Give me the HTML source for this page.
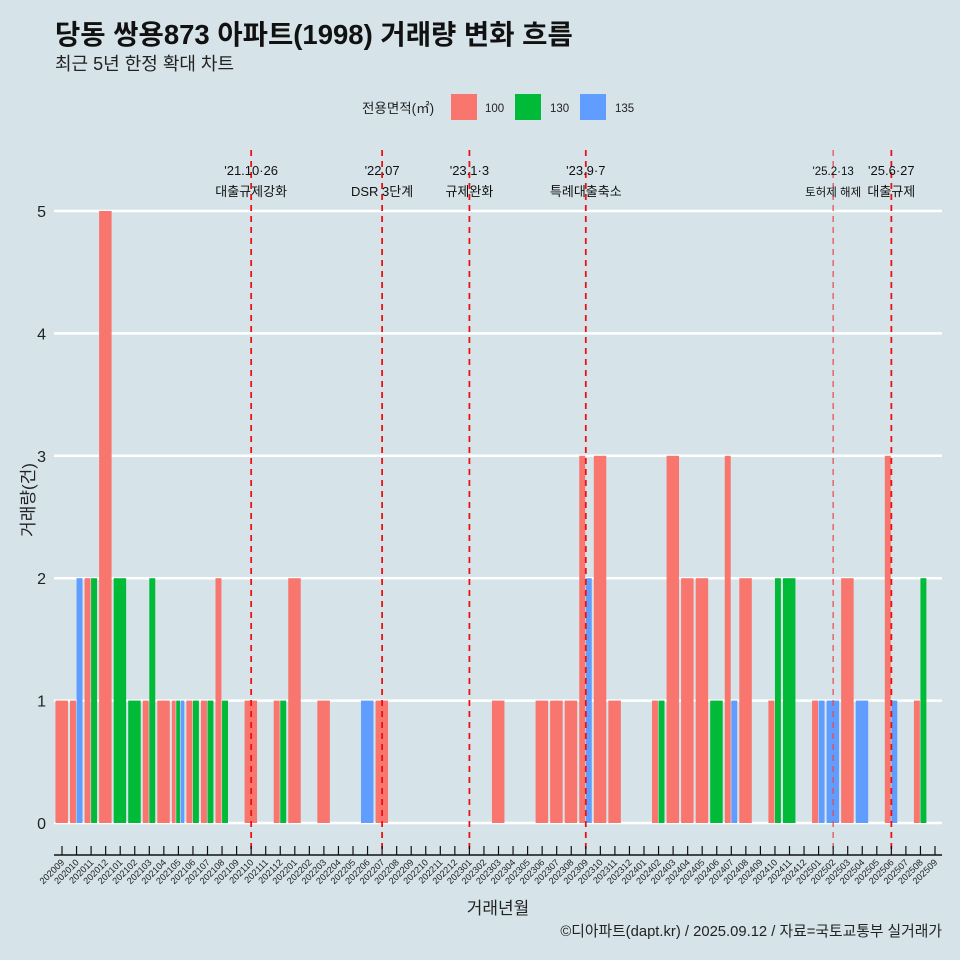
<!DOCTYPE html>
<html><head><meta charset="utf-8">
<style>
body{margin:0;background:#d6e4ea;}
svg{display:block;font-family:"Liberation Sans","Noto Sans CJK KR",sans-serif;}
</style></head>
<body>
<svg id="chart" width="960" height="960" viewBox="0 0 960 960">
<rect width="960" height="960" fill="#d6e4ea"/>
<text x="55" y="44" font-size="27.5" font-weight="bold" fill="#111">당동 쌍용873 아파트(1998) 거래량 변화 흐름</text>
<text x="55" y="70" font-size="18" fill="#222">최근 5년 한정 확대 차트</text>
<g>
<text x="362" y="113" font-size="13.5" fill="#222">전용면적(㎡)</text>
<rect x="451" y="94" width="26" height="26" fill="#F8766D"/>
<text x="485" y="112" font-size="11.5" fill="#222">100</text>
<rect x="515" y="94" width="26" height="26" fill="#00BA38"/>
<text x="550" y="112" font-size="11.5" fill="#222">130</text>
<rect x="580" y="94" width="26" height="26" fill="#619CFF"/>
<text x="615" y="112" font-size="11.5" fill="#222">135</text>
</g>
<g id="grid"></g><g id="bars"></g><g id="events"></g><g id="axes"></g>
<text x="0" y="0" transform="translate(34,500) rotate(-90)" text-anchor="middle" font-size="17" fill="#222">거래량(건)</text>
<text x="498" y="914" text-anchor="middle" font-size="17" fill="#222">거래년월</text>
<text x="942" y="936" text-anchor="end" font-size="14.8" fill="#222">©디아파트(dapt.kr) / 2025.09.12 / 자료=국토교통부 실거래가</text>
</svg>
<script>
const months = ["202009","202010","202011","202012","202101","202102","202103","202104","202105","202106","202107","202108","202109","202110","202111","202112","202201","202202","202203","202204","202205","202206","202207","202208","202209","202210","202211","202212","202301","202302","202303","202304","202305","202306","202307","202308","202309","202310","202311","202312","202401","202402","202403","202404","202405","202406","202407","202408","202409","202410","202411","202412","202501","202502","202503","202504","202505","202506","202507","202508","202509"];
const s100 = [1,1,2,5,0,0,1,1,1,1,1,2,0,1,0,1,2,0,1,0,0,0,1,0,0,0,0,0,0,0,1,0,0,1,1,1,3,3,1,0,0,1,3,2,2,0,3,2,0,1,0,0,1,0,2,0,0,3,0,1,0];
const s130 = [0,0,2,0,2,1,2,0,1,1,1,1,0,0,0,1,0,0,0,0,0,0,0,0,0,0,0,0,0,0,0,0,0,0,0,0,0,0,0,0,0,1,0,0,0,1,0,0,0,2,2,0,0,0,0,0,0,0,0,2,0];
const s135 = [0,2,0,0,0,0,0,0,1,0,0,0,0,0,0,0,0,0,0,0,0,1,0,0,0,0,0,0,0,0,0,0,0,0,0,0,2,0,0,0,0,0,0,0,0,0,1,0,0,0,0,0,1,1,0,1,0,1,0,0,0];
const yTicks = [0,1,2,3,4,5];
const eventMonths = ["202110","202207","202301","202309","202502","202506"];
const eventDates = ["'21.10·26","'22.07","'23.1·3","'23.9·7","'25.2·13","'25.6·27"];
const eventLabels = ["대출규제강화","DSR 3단계","규제완화","특례대출축소","토허제 해제","대출규제"];

const NS="http://www.w3.org/2000/svg";
const X0=62, STEP=14.55, Y0=823, UNIT=122.4;
const xs=i=>X0+i*STEP, ys=v=>Y0-v*UNIT;
function mk(tag,attrs,parent){const e=document.createElementNS(NS,tag);for(const k in attrs)e.setAttribute(k,attrs[k]);parent.appendChild(e);return e;}
const grid=document.getElementById('grid'),bars=document.getElementById('bars'),ev=document.getElementById('events'),ax=document.getElementById('axes');
yTicks.forEach(t=>{
  const l=mk('line',{x1:54,x2:942,y1:ys(t),y2:ys(t),stroke:'#fff','stroke-width':2.5},grid);
  
  
  const tx=mk('text',{x:46,y:ys(t)+6,'text-anchor':'end','font-size':16,fill:'#222'},ax);
  tx.textContent=t;
  
  
});
const series=[[s100,'#F8766D','100'],[s130,'#00BA38','130'],[s135,'#619CFF','135']];
months.forEach((m,i)=>{
  const present=series.filter(s=>s[0][i]>0);
  const n=present.length; if(!n)return;
  const total=STEP*0.9, w=total/n;
  present.forEach((s,j)=>{
    const v=s[0][i];
    const r=mk('rect',{x:xs(i)-total/2+j*w,y:ys(v),width:Math.max(w-0.6,0.5),height:v*UNIT,fill:s[1]},bars);
    
    
  });
});
eventMonths.forEach((m,k)=>{
  const i=months.indexOf(m), x=xs(i);
  const thin=m==="202502";
  const l=mk('line',{x1:x,x2:x,y1:150,y2:850,stroke:thin?'#e8444a':'#ee1111','stroke-width':thin?1.2:1.8,'stroke-dasharray':'6,5'},ev);
  
  
  const fs=thin?11.5:13;
  const t1=mk('text',{x:x,y:175,'text-anchor':'middle','font-size':fs,fill:'#111'},ev);
  t1.textContent=eventDates[k];
  
  
  const t2=mk('text',{x:x,y:196,'text-anchor':'middle','font-size':fs,fill:'#111'},ev);
  t2.textContent=eventLabels[k];
  
  
});
const al=mk('line',{x1:54,x2:942,y1:855,y2:855,stroke:'#111','stroke-width':1.5},ax);


months.forEach((m,i)=>{
  const x=xs(i);
  const tk=mk('line',{x1:x,x2:x,y1:846,y2:855,stroke:'#111','stroke-width':1.2},ax);
  
  
  const t=mk('text',{x:x+3,y:863,'text-anchor':'end','font-size':9.2,fill:'#222',transform:`rotate(-45 ${x+3} 863)`},ax);
  t.textContent=m;
  
  
});
</script>
</body></html>
